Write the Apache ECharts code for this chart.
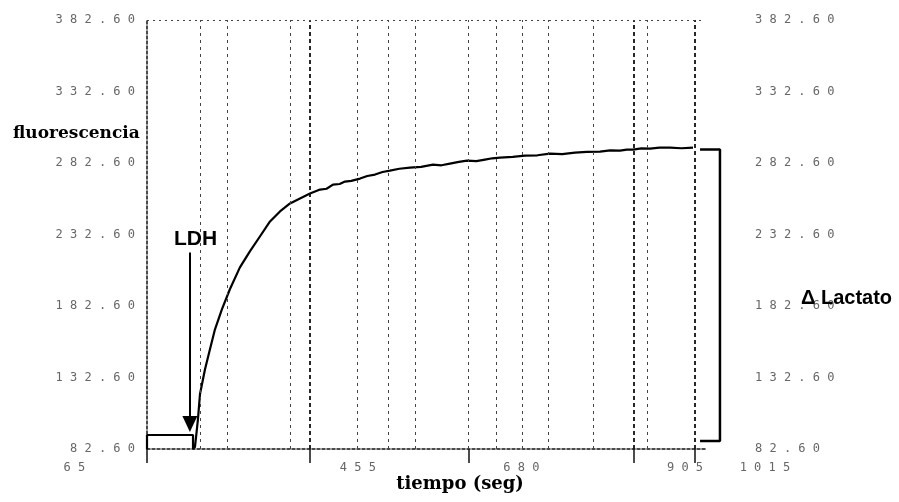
<!DOCTYPE html>
<html>
<head>
<meta charset="utf-8">
<script src="https://cdn.jsdelivr.net/npm/echarts@6/dist/echarts.min.js"></script>
<style>html,body{margin:0;padding:0;background:#fff}#c{width:899px;height:502px}</style>
</head>
<body>
<div id="c"></div>
<script>
// ---- data ----
const timeSec = [165, 165, 228.3, 228.3, 231, 235.1, 237.9, 244.8, 251.6, 258.5, 268, 279, 292.8, 306.5, 320.3, 334.2, 347.9, 361.7, 375.4, 389.2, 403, 412, 420.8, 430, 437.3, 446, 458, 468, 478.6, 489, 499.2, 512, 526.7, 542, 558.4, 570, 581.7, 594, 605.1, 618, 629.9, 640, 650.5, 668, 684.9, 702, 719.3, 736, 753.7, 770, 788.1, 802, 815.6, 825, 833.5, 845, 856.9, 870, 884.4, 900, 916];
const fluor   = [82.6, 92.4, 92.4, 82.6, 84.0, 103.5, 121.0, 138.4, 152.4, 166.3, 180.3, 194.3, 209.6, 220.8, 231.2, 241.7, 248.7, 254.3, 257.8, 261.2, 264.0, 264.6, 267.5, 267.9, 269.6, 270.1, 271.7, 273.5, 274.5, 276.3, 277.3, 278.6, 279.4, 279.9, 281.5, 281.0, 282.2, 283.4, 284.3, 283.9, 285.0, 285.9, 286.4, 286.9, 287.8, 288.0, 289.2, 288.8, 289.9, 290.4, 290.6, 291.4, 291.3, 292.0, 292.0, 292.8, 292.6, 293.4, 293.3, 292.9, 293.3];
const xTickLabels = [65, 455, 680, 905, 1015];
const yTickValues = [82.6, 132.6, 182.6, 232.6, 282.6, 332.6, 382.6];
const gridLineTimes = [238, 276, 362, 454, 497, 534, 607, 646, 681, 717, 779, 853];
const boldGridTimes = [389, 834, 919];
const axisTickTimes = [165, 389, 607, 834, 919];
const bracketTimes = [925.7, 953.1, 953.1, 925.7];
const bracketLevels = [292.0, 292.0, 88.2, 88.2];
const arrowTime = 224;
const arrowFrom = 220;
const arrowTo = 100;

const spaced = v => (typeof v === 'number' ? v.toFixed(2) : String(v)).split('').join(' ');
const spacedInt = v => String(Math.round(v)).split('').join(' ');

const chart = echarts.init(document.getElementById('c'), null, {renderer: 'canvas'});

const gridMarks = [];
gridLineTimes.forEach(t => gridMarks.push({xAxis: t, lineStyle: {type: [3, 4], width: 1, color: '#444'}}));
boldGridTimes.forEach(t => gridMarks.push({xAxis: t, lineStyle: {type: [4, 3], width: 1.8, color: '#111'}}));
gridMarks.push({yAxis: yTickValues[yTickValues.length - 1], lineStyle: {type: [2, 4], width: 1, color: '#444'}});
gridMarks.push([
  {coord: [arrowTime, arrowFrom], symbol: 'none', lineStyle: {type: 'solid', width: 2, color: '#000'}},
  {coord: [arrowTime, arrowTo], symbol: 'triangle', symbolSize: [15, 16]}
]);

const option = {
  animation: false,
  backgroundColor: '#fff',
  title: [
    {text: 'fluorescencia', left: 8, top: 120, textStyle: {fontFamily: 'DejaVu Serif', fontWeight: 'bold', fontSize: 17, color: '#000'}},
    {text: 'tiempo (seg)', left: 455, top: 470, textAlign: 'center', textStyle: {fontFamily: 'DejaVu Serif', fontWeight: 'bold', fontSize: 18, color: '#000'}},
    {text: 'LDH', left: 169, top: 224, textStyle: {fontFamily: 'Liberation Sans', fontWeight: 'bold', fontSize: 21, color: '#000'}},
    {text: 'Δ Lactato', left: 796, top: 283, textStyle: {fontFamily: 'Liberation Sans', fontWeight: 'bold', fontSize: 20, color: '#000'}}
  ],
  grid: [
    {left: 147, right: 194, top: 20, bottom: 53},
    {left: 40, right: 99, top: 20, bottom: 53}
  ],
  xAxis: [
    {type: 'value', gridIndex: 0, min: 165, max: 932.5,
     axisLine: {show: true, lineStyle: {color: '#111', width: 1.5, type: [3, 2]}},
     axisTick: {show: true, customValues: axisTickTimes, length: 14, lineStyle: {color: '#111', width: 1.5}},
     axisLabel: {show: false}, splitLine: {show: false}},
    {type: 'value', gridIndex: 1, min: 17.8, max: 1063.2,
     axisLine: {show: false}, axisTick: {show: false}, splitLine: {show: false},
     axisLabel: {show: true, customValues: xTickLabels, formatter: spacedInt, margin: 13,
       fontFamily: 'DejaVu Sans Mono', fontSize: 12, color: '#666'}}
  ],
  yAxis: [
    {type: 'value', gridIndex: 0, position: 'left', min: 82.6, max: 382.6,
     axisLine: {show: true, lineStyle: {color: '#111', width: 1.5, type: [3, 2]}},
     axisTick: {show: false}, splitLine: {show: false},
     axisLabel: {show: true, customValues: yTickValues, formatter: spaced, margin: 12,
       fontFamily: 'DejaVu Sans Mono', fontSize: 12, color: '#666'}},
    {type: 'value', gridIndex: 0, position: 'right', min: 82.6, max: 382.6,
     axisLine: {show: false}, axisTick: {show: false}, splitLine: {show: false},
     axisLabel: {show: true, customValues: yTickValues, formatter: spaced, margin: 50,
       fontFamily: 'DejaVu Sans Mono', fontSize: 12, color: '#666'}},
    {type: 'value', gridIndex: 1, min: 82.6, max: 382.6, show: false}
  ],
  series: [
    {type: 'line', xAxisIndex: 0, yAxisIndex: 0, symbol: 'none',
     data: timeSec.map((t, i) => [t, fluor[i]]),
     lineStyle: {color: '#000', width: 2.2},
     markLine: {silent: true, symbol: 'none', label: {show: false}, animation: false, data: gridMarks}},
    {type: 'line', xAxisIndex: 1, yAxisIndex: 2, symbol: 'none',
     data: bracketTimes.map((t, i) => [t, bracketLevels[i]]),
     lineStyle: {color: '#000', width: 2.5}}
  ]
};
chart.setOption(option);
</script>
</body>
</html>
